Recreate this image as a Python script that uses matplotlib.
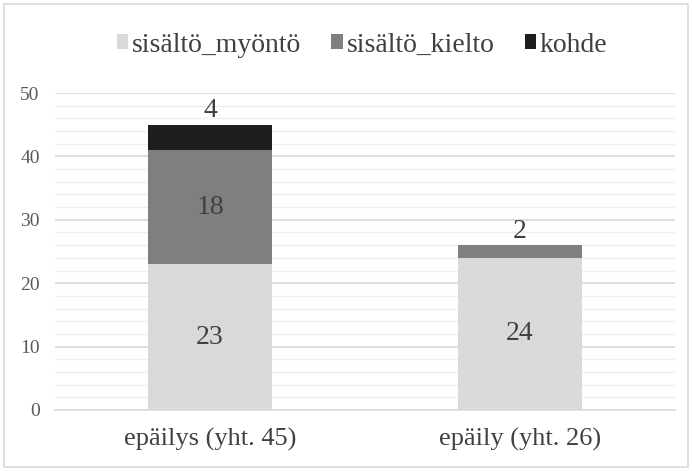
import matplotlib
matplotlib.use("Agg")
import matplotlib.pyplot as plt
from matplotlib.patches import Rectangle
import numpy as np

categories = ["epäilys (yht. 45)", "epäily (yht. 26)"]
series_names = ["sisältö_myöntö", "sisältö_kielto", "kohde"]
myonto = [23, 24]
kielto = [18, 2]
kohde = [4, 0]
colors = ["#d9d9d9", "#7f7f7f", "#1e1e1e"]

FAM = 'Liberation Serif'
plt.rcParams['font.family'] = 'serif'
plt.rcParams['font.serif'] = ['Liberation Serif', 'DejaVu Serif']

fig = plt.figure(figsize=(6.92, 4.71), dpi=100)
ax = fig.add_axes([55/692, 1-410/471, 620/692, (410-93)/471])

x = np.arange(len(categories))
w = 0.4
data = [myonto, kielto, kohde]
bottom = np.zeros(len(categories))
bars = []
for vals, name, c in zip(data, series_names, colors):
    b = ax.bar(x, vals, w, bottom=bottom, color=c, label=name, zorder=3)
    bars.append(b)
    bottom = bottom + np.array(vals)

fs_val = 20
for i in range(len(categories)):
    ax.text(x[i], myonto[i] / 2, str(myonto[i]), ha='center', va='center', fontsize=fs_val,
            color='#404040', zorder=4, family=FAM)
    tot = myonto[i] + kielto[i] + kohde[i]
    if kohde[i] > 0:
        ax.text(x[i], myonto[i] + kielto[i] / 2, str(kielto[i]), ha='center', va='center',
                fontsize=fs_val, color='#404040', zorder=4, family=FAM)
        ax.text(x[i], tot + 0.2, str(kohde[i]), ha='center', va='bottom', fontsize=fs_val,
                color='#404040', zorder=4, family=FAM)
    else:
        ax.text(x[i], tot + 0.2, str(kielto[i]), ha='center', va='bottom', fontsize=fs_val,
                color='#404040', zorder=4, family=FAM)

ax.set_xlim(-0.5, 1.5)
ax.set_ylim(0, 50)
ax.set_yticks(np.arange(0, 51, 10))
ax.set_yticks(np.arange(0, 51, 2), minor=True)
ax.grid(axis='y', which='major', color='#d9d9d9', linewidth=1.2, zorder=0)
ax.grid(axis='y', which='minor', color='#efefef', linewidth=1.0, zorder=0)
ax.set_xticks(x)
ax.set_xticklabels(categories, fontsize=19, color='#404040', family=FAM)
ax.tick_params(axis='y', labelsize=14, colors='#595959', length=0, pad=11)
for t in ax.get_yticklabels():
    t.set_family(FAM)
ax.tick_params(axis='x', length=0, pad=13)
ax.tick_params(which='minor', length=0)
for s in ['top', 'right', 'left']:
    ax.spines[s].set_visible(False)
ax.spines['bottom'].set_color('#d9d9d9')
ax.spines['bottom'].set_linewidth(1.2)

leg = fig.legend(handles=bars, labels=series_names, loc='center', bbox_to_anchor=(362/692, 1-45/471),
                 ncol=3, frameon=False, prop={'family': FAM, 'size': 20}, handlelength=0.42,
                 handleheight=0.42, handletextpad=0.12, columnspacing=1.1)
for t in leg.get_texts():
    t.set_color('#404040')

fig.patches.append(Rectangle((4/692, 4/471), 684/692, 463/471, transform=fig.transFigure,
                             fill=False, edgecolor='#d9d9d9', linewidth=1.2))

fig.savefig("out.png", dpi=100)
